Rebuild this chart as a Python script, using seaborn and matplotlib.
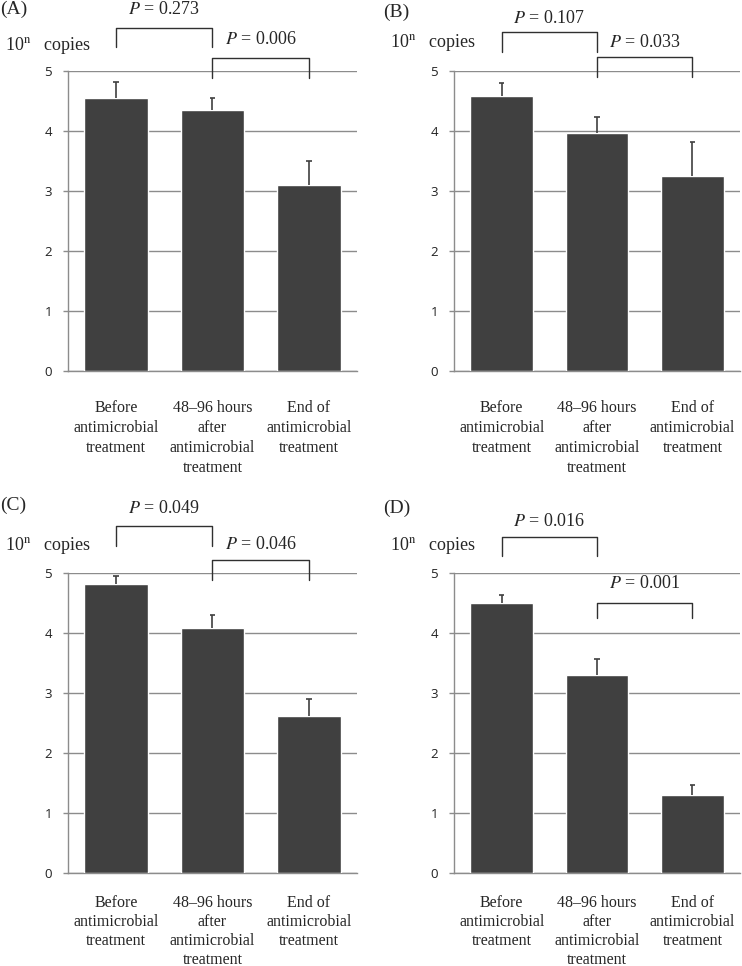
"""
Bar charts of copy numbers (10^n copies) at three time points of
antimicrobial treatment, four panels (A)-(D) with P values.
"""

import matplotlib.pyplot as plt
import seaborn as sns
import pandas as pd

# Data
categories = ['Before\nantimicrobial\ntreatment',
              '48\u201396 hours\nafter\nantimicrobial\ntreatment',
              'End of\nantimicrobial\ntreatment']

meanA = [4.55, 4.35, 3.10]
errA = [0.27, 0.20, 0.40]
meanB = [4.58, 3.97, 3.25]
errB = [0.22, 0.26, 0.57]
meanC = [4.82, 4.08, 2.62]
errC = [0.13, 0.22, 0.28]
meanD = [4.50, 3.30, 1.30]
errD = [0.14, 0.26, 0.17]

panelNames = ['(A)', '(B)', '(C)', '(D)']
pFirst = ['0.273', '0.107', '0.049', '0.016']
pSecond = ['0.006', '0.033', '0.046', '0.001']

yTicks = [0, 1, 2, 3, 4, 5]

# Layout: axes rectangles in figure fraction
axRects = [[0.0916, 0.616, 0.3895, 0.3106],
           [0.6119, 0.616, 0.3854, 0.3106],
           [0.0916, 0.0963, 0.3895, 0.3106],
           [0.6119, 0.0963, 0.3854, 0.3106]]
# bracket (low, top, label) heights in data units, first and second comparison
bracket1 = [(5.40, 5.72, 6.03), (5.32, 5.65, 5.88), (5.45, 5.78, 6.08), (5.28, 5.60, 5.85)]
bracket2 = [(4.88, 5.22, 5.52), (4.90, 5.23, 5.47), (4.88, 5.22, 5.48), (4.25, 4.50, 4.83)]
labelY = [6.02, 5.98, 6.12, 6.08]
copiesY = [5.43, 5.47, 5.45, 5.45]
labelX = [-0.235, -0.248, -0.235, -0.248]
copiesX = [-0.218, -0.225, -0.218, -0.225]
xLabelPad = [21, 21, 15.5, 15.5]
xLineSpacing = [1.33, 1.33, 1.26, 1.26]

barColor = '#404040'
gridColor = '#8c8c8c'
serif = 'Liberation Serif'
capHalf = 0.028

sns.set_style('white')
plt.rcParams['font.family'] = [serif, 'DejaVu Serif']
plt.rcParams['mathtext.fontset'] = 'stix'


def drawBracket(ax, x1, x2, low, top, ytext, pval):
    """ draw a significance bracket between bar x1 and x2 """
    ax.plot([x1, x1, x2, x2], [low, top, top, low], color='#303030',
            linewidth=1.0, clip_on=False)
    ax.text((x1 + x2) / 2, ytext, '$P$ = %s' % pval, ha='center', va='center',
            fontsize=13, family=serif)


fig = plt.figure(figsize=(7.42, 9.66), dpi=100)

means = [meanA, meanB, meanC, meanD]
errs = [errA, errB, errC, errD]

for i in range(4):
    ax = fig.add_axes(axRects[i])
    df = pd.DataFrame({'cat': categories, 'val': means[i]})
    sns.barplot(data=df, x='cat', y='val', color=barColor, width=0.66,
                errorbar=None, ax=ax, saturation=1, zorder=3)
    # upper error bars only (stem + cap)
    xs = list(range(3))
    tops = [m + e for m, e in zip(means[i], errs[i])]
    ax.vlines(xs, means[i], tops, color=barColor, linewidth=1.2, zorder=4)
    ax.hlines(tops, [x - capHalf for x in xs], [x + capHalf for x in xs],
              color=barColor, linewidth=1.2, zorder=4)

    ax.set_ylim(0, 5)
    ax.set_xlim(-0.5, 2.5)
    ax.set_yticks(yTicks)
    ax.set_xlabel('')
    ax.set_ylabel('')
    ax.yaxis.grid(True, color=gridColor, linewidth=1.0, zorder=0)
    ax.set_axisbelow(True)
    for s in ['top', 'right']:
        ax.spines[s].set_visible(False)
    for s in ['left', 'bottom']:
        ax.spines[s].set_color(gridColor)
        ax.spines[s].set_linewidth(1.0)

    ax.tick_params(axis='y', left=True, length=3.6, width=1.0, color=gridColor,
                   pad=8, labelsize=9.5)
    for lab in ax.get_yticklabels():
        lab.set_family('Open Sans')
        lab.set_color('#222222')
    ax.tick_params(axis='x', length=0, pad=xLabelPad[i], labelsize=11.5)
    for lab in ax.get_xticklabels():
        lab.set_family(serif)
        lab.set_linespacing(xLineSpacing[i])

    # P value brackets
    drawBracket(ax, 0, 1, bracket1[i][0], bracket1[i][1], bracket1[i][2], pFirst[i])
    drawBracket(ax, 1, 2, bracket2[i][0], bracket2[i][1], bracket2[i][2], pSecond[i])

    trans = ax.get_yaxis_transform()
    ax.text(labelX[i], labelY[i], panelNames[i], transform=trans, ha='left',
            va='center', fontsize=14, family=serif)
    ax.text(copiesX[i], copiesY[i], '10$^{\\mathrm{n}}$   copies', transform=trans,
            ha='left', va='center', fontsize=13, family=serif)

fig.savefig('out.png', dpi=100)
